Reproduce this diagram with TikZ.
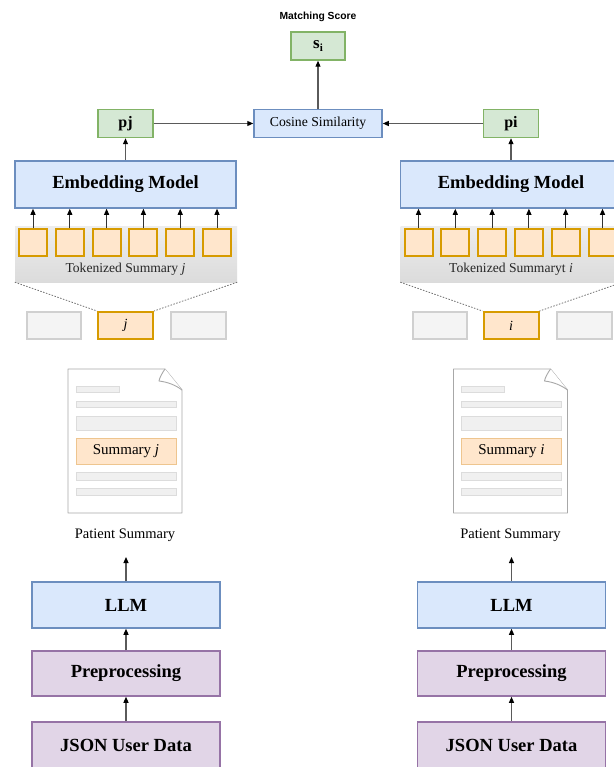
\documentclass[tikz,border=0pt]{standalone}
\usepackage{fontspec}
\setmainfont{Liberation Serif}
\newfontfamily\labelsans{Liberation Sans}
\usetikzlibrary{arrows.meta}
\definecolor{bfill}{HTML}{DAE8FC}
\definecolor{bdraw}{HTML}{6C8EBF}
\definecolor{gfill}{HTML}{D5E8D4}
\definecolor{gdraw}{HTML}{82B366}
\definecolor{pfill}{HTML}{E1D5E7}
\definecolor{pdraw}{HTML}{9673A6}
\definecolor{ofill}{HTML}{FFE6CC}
\definecolor{odraw}{HTML}{D79B00}
\definecolor{osoft}{HTML}{EEC58F}
\definecolor{lgray}{HTML}{5A5A5A}
\definecolor{boxgray}{HTML}{F4F4F4}
\definecolor{boxgraydraw}{HTML}{D0D0D0}
\definecolor{barfill}{HTML}{F0F0F0}
\definecolor{bardraw}{HTML}{DCDCDC}
\definecolor{docdraw}{HTML}{A8A8A8}
\tikzset{
  box/.style={line width=1.5pt, inner sep=0pt, align=center},
  bluebox/.style={box, draw=bdraw, fill=bfill},
  greenbox/.style={box, draw=gdraw, fill=gfill},
  purplebox/.style={box, draw=pdraw, fill=pfill},
  bigtxt/.style={font=\fontsize{18.5}{20}\selectfont\bfseries},
  tokbox/.style={box, draw=odraw, fill=ofill, line width=2pt, minimum width=28, minimum height=27},
  graybox/.style={box, draw=boxgraydraw, fill=boxgray, line width=2pt, minimum width=55, minimum height=27},
  barbox/.style={draw=bardraw, fill=barfill, line width=0.8pt, inner sep=0pt},
  arr/.style={-{Triangle[length=6pt,width=5pt,color=black]}, draw=lgray, line width=1.1pt},
  tarr/.style={-{Triangle[length=6pt,width=5pt,color=black]}, draw=black!80, line width=1pt},
  dotline/.style={draw=black!55, line width=0.8pt, dash pattern=on 1.5pt off 1.5pt},
}
\newcommand\drawcolumn[5]{%
\begin{scope}[shift={(#2,0)}]
  \node[bluebox, bigtxt, minimum width=221, minimum height=47] (emb#1) at (0,184.5) {Embedding Model};
  \node[greenbox, font=\fontsize{16}{18}\selectfont\bfseries, minimum width=55, minimum height=28] (p#1) at (0,123.5) {#5};
  \draw[arr] (emb#1.north) -- (p#1.south);
  \node[inner sep=0pt, top color=black!7, bottom color=black!14, minimum width=222, minimum height=56] (bg#1) at (0.5,254) {};
  \foreach \k/\xx in {1/-92.5,2/-55.7,3/-18.9,4/17.9,5/54.7,6/91.5}{
    \node[tokbox] (tok#1\k) at (\xx,242.5) {};
    \draw[tarr] (tok#1\k.north) -- (tok#1\k.north |- emb#1.south);
  }
  \node[font=\fontsize{13.6}{15}\selectfont, text=black!85] (tt#1) at (0,269) {#3};
  \node[graybox, minimum width=54] (ga#1) at (-71.5,325.5) {};
  \node[tokbox, minimum width=55, font=\fontsize{14}{15}\selectfont\itshape] (let#1) at (0,325.5) {#4};
  \node[graybox] (gb#1) at (73,325.5) {};
  \draw[dotline] (bg#1.south west) -- (let#1.north west);
  \draw[dotline] (bg#1.south east) -- (let#1.north east);
  % document
  \coordinate (dtl#1) at (-57.5,369);
  \coordinate (dfa#1) at (39.5,369);
  \coordinate (dfb#1) at (56.5,390);
  \coordinate (dbr#1) at (56.5,513);
  \coordinate (dbl#1) at (-57.5,513);
  \draw[docdraw, fill=white, line width=0.9pt, line join=round] (dtl#1) -- (dfa#1) -- (dfb#1) -- (dbr#1) -- (dbl#1) -- cycle;
  \draw[docdraw, fill=white, line width=0.9pt, line join=round] (dfa#1) .. controls (36,374) and (34,378) .. (33.5,381) .. controls (42,382) and (50,385) .. (dfb#1);
  \node[barbox, minimum width=43, minimum height=6] (b1#1) at (-28,389) {};
  \node[barbox, minimum width=100, minimum height=6] (b2#1) at (0.5,404) {};
  \node[barbox, minimum width=100, minimum height=14] (b3#1) at (0.5,423) {};
  \node[draw=osoft, fill=ofill, line width=0.9pt, inner sep=0pt, minimum width=100, minimum height=26, font=\fontsize{15}{16}\selectfont] (sum#1) at (0.5,451) {Summary \textit{#4}};
  \node[barbox, minimum width=100, minimum height=8] (b4#1) at (0.5,476) {};
  \node[barbox, minimum width=100, minimum height=7] (b5#1) at (0.5,491.5) {};
  \node[font=\fontsize{14.5}{16}\selectfont] (ps#1) at (-0.5,535) {Patient Summary};
  \coordinate (pst#1) at (0.5,557);
  \node[bluebox, bigtxt, minimum width=188, minimum height=46] (llm#1) at (0.5,605) {LLM};
  \node[purplebox, bigtxt, minimum width=188, minimum height=45] (pre#1) at (0.5,673.5) {Preprocessing};
  \node[purplebox, bigtxt, minimum width=188, minimum height=46] (json#1) at (0.5,745) {JSON User Data};
  \draw[arr] (llm#1.north) -- (pst#1);
  \draw[arr] (pre#1.north) -- (llm#1.south);
  \draw[arr] (json#1.north) -- (pre#1.south);
\end{scope}}
\begin{document}
\begin{tikzpicture}[x=1pt,y=-1pt]
\useasboundingbox (0,0) rectangle (613,767);
\fill[white] (0,0) rectangle (613,767);
\drawcolumn{L}{125.5}{Tokenized Summary \textit{j}}{j}{pj}
\drawcolumn{R}{511}{Tokenized Summaryt \textit{i}}{i}{pi}
\node[font=\fontsize{10.3}{12}\selectfont\labelsans\bfseries] (ms) at (318,17) {Matching Score};
\node[greenbox, minimum width=54, minimum height=28, font=\fontsize{17}{18}\selectfont\bfseries] (si) at (318,46) {s\kern0.3pt\raisebox{-3pt}{\fontsize{11}{12}\selectfont\bfseries i}};
\node[bluebox, minimum width=128, minimum height=28, font=\fontsize{13.7}{15}\selectfont] (cos) at (318,123.5) {Cosine Similarity};
\draw[arr] (cos.north) -- (si.south);
\draw[arr] (pL.east) -- (cos.west);
\draw[arr] (pR.west) -- (cos.east);
\end{tikzpicture}
\end{document}
